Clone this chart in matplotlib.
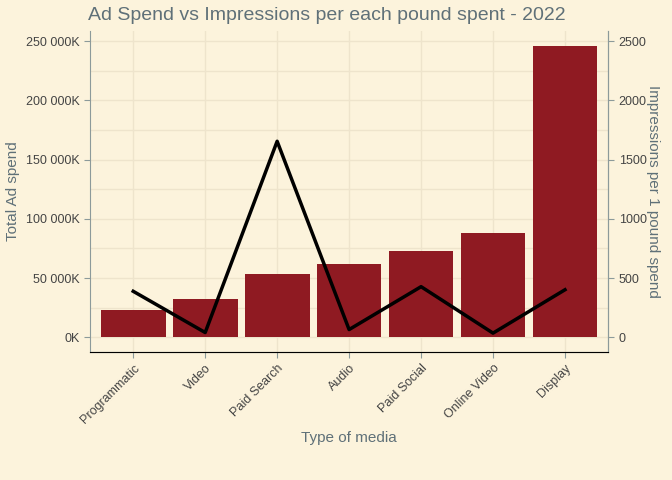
import matplotlib
matplotlib.use("Agg")
import matplotlib.pyplot as plt
from matplotlib.ticker import FuncFormatter, MultipleLocator

media = ["Programmatic", "Video", "Paid Search", "Audio", "Paid Social", "Online Video", "Display"]
ad_spend_k = [22700, 32300, 53400, 61700, 72700, 88300, 246000]
impressions_per_pound = [388, 40, 1654, 65, 427, 35, 401]

plt.rcParams["font.family"] = ["Liberation Sans", "DejaVu Sans"]

bg = "#FCF3DC"
grid_c = "#EEE4CC"
text_c = "#5F7078"
axis_c = "#8C9A9A"

fig = plt.figure(figsize=(6.72, 4.8), dpi=100, facecolor=bg)
ax = fig.add_axes([0.134, 0.267, 0.771, 0.668], facecolor=bg)
x = range(len(media))
ax.bar(x, ad_spend_k, width=0.9, color="#8F1A22", zorder=2)
ax.set_xlim(-0.6, len(media) - 0.4)
ax.set_ylim(-12300, 258300)
ax.yaxis.set_major_locator(MultipleLocator(50000))
ax.yaxis.set_minor_locator(MultipleLocator(25000))
ax.yaxis.set_major_formatter(FuncFormatter(lambda v, p: f"{int(v):,}".replace(",", " ") + "K"))
ax.grid(True, which="both", color=grid_c, lw=1, zorder=0)
ax.tick_params(axis="y", which="minor", length=0)
ax.set_xticks(list(x))
ax.set_xticklabels(media, rotation=45, ha="right", rotation_mode="anchor")
ax.tick_params(colors="#444444", labelsize=9)
ax.tick_params(axis="both", which="major", color=axis_c, length=4)
ax.spines["top"].set_visible(False)
for s in ["left", "bottom", "right"]:
    ax.spines[s].set_color(axis_c)
ax.set_xlabel("Type of media", color=text_c, fontsize=11)
ax.set_ylabel("Total Ad spend", color=text_c, fontsize=11)
ax.set_title("Ad Spend vs Impressions per each pound spent - 2022", color=text_c,
             fontsize=14, loc="left", x=-0.003, pad=8)

ax2 = ax.twinx()
ax2.set_ylim(-123, 2583)
ax2.plot(list(x), impressions_per_pound, color="black", lw=2.5, zorder=3)
ax2.yaxis.set_major_locator(MultipleLocator(500))
ax2.tick_params(colors="#444444", labelsize=9, color=axis_c, length=4)
ax2.spines["top"].set_visible(False)
ax2.spines["right"].set_color(axis_c)
ax2.spines["left"].set_visible(False)
ax2.set_ylabel("Impressions per 1 pound spend", color=text_c, fontsize=11, rotation=270, labelpad=10)

fig.savefig("out.png", dpi=100, facecolor=bg)
